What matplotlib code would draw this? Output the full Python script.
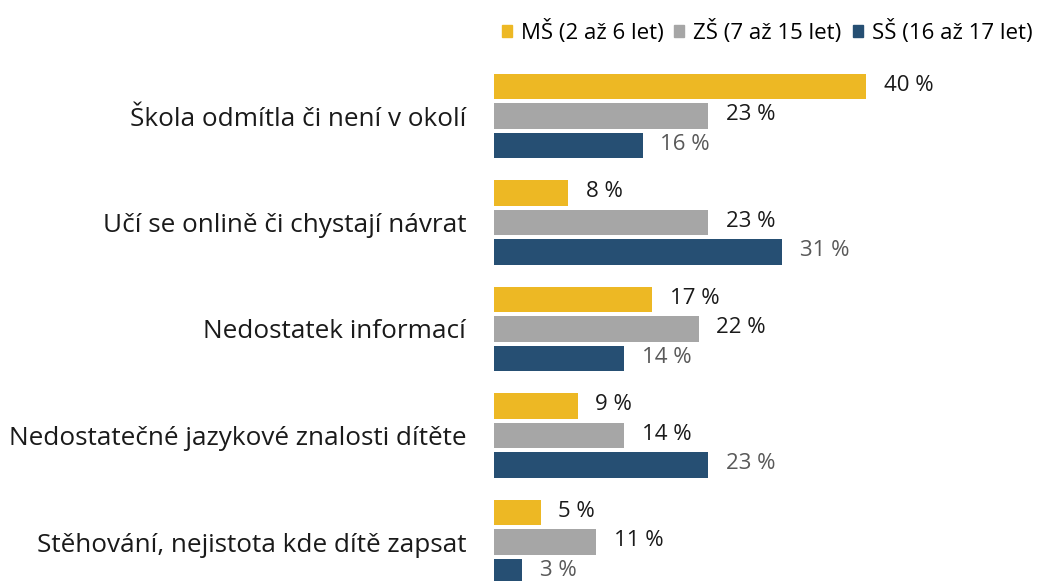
import matplotlib.pyplot as plt
from matplotlib.patches import Patch

plt.rcParams['font.family'] = ['Open Sans', 'DejaVu Sans']

categories = ['Škola odmítla či není v okolí', 'Učí se onlině či chystají návrat',
              'Nedostatek informací', 'Nedostatečné jazykové znalosti dítěte',
              'Stěhování, nejistota kde dítě zapsat']
series = ['MŠ (2 až 6 let)', 'ZŠ (7 až 15 let)', 'SŠ (16 až 17 let)']
ms = [40, 8, 17, 9, 5]
zs = [23, 23, 22, 14, 11]
ss = [16, 31, 14, 23, 3]

colors = ['#EDB824', '#A6A6A6', '#264F73']
label_colors = ['#1a1a1a', '#1a1a1a', '#595959']

W, H = 1049, 581
fig = plt.figure(figsize=(W / 100, H / 100), dpi=100)
# axes placed in pixel terms: x from 494 to 959 (0..50 %)
ax = fig.add_axes([494 / W, 0, 465 / W, (H - 60) / H])

step = 29.5 / 106.5
height = 25.5 / 106.5
for k, vals in enumerate([ms, zs, ss]):
    ys = [i + (k - 1) * step for i in range(len(categories))]
    ax.barh(ys, vals, height=height, color=colors[k])
    for y, v in zip(ys, vals):
        ax.text(v + 1.9, y - 0.01, f'{v} %', va='center', ha='left', fontsize=16,
                color=label_colors[k])

ax.set_xlim(0, 50)
ax.set_ylim((H - 116) / 106.5, (60 - 116) / 106.5)
ax.set_yticks(range(len(categories)))
ax.set_yticklabels(categories, fontsize=18.8, color='#1a1a1a')
ax.tick_params(axis='y', length=0, pad=20)
ax.set_xticks([])
for s in ax.spines.values():
    s.set_visible(False)

handles = [Patch(color=c) for c in colors]
fig.legend(handles, series, loc='upper right', bbox_to_anchor=(1.003, 1.0),
           ncol=3, frameon=False, fontsize=16, handlelength=0.45, handleheight=0.45,
           handletextpad=0.4, columnspacing=0.5)

fig.savefig('out.png', dpi=100)
